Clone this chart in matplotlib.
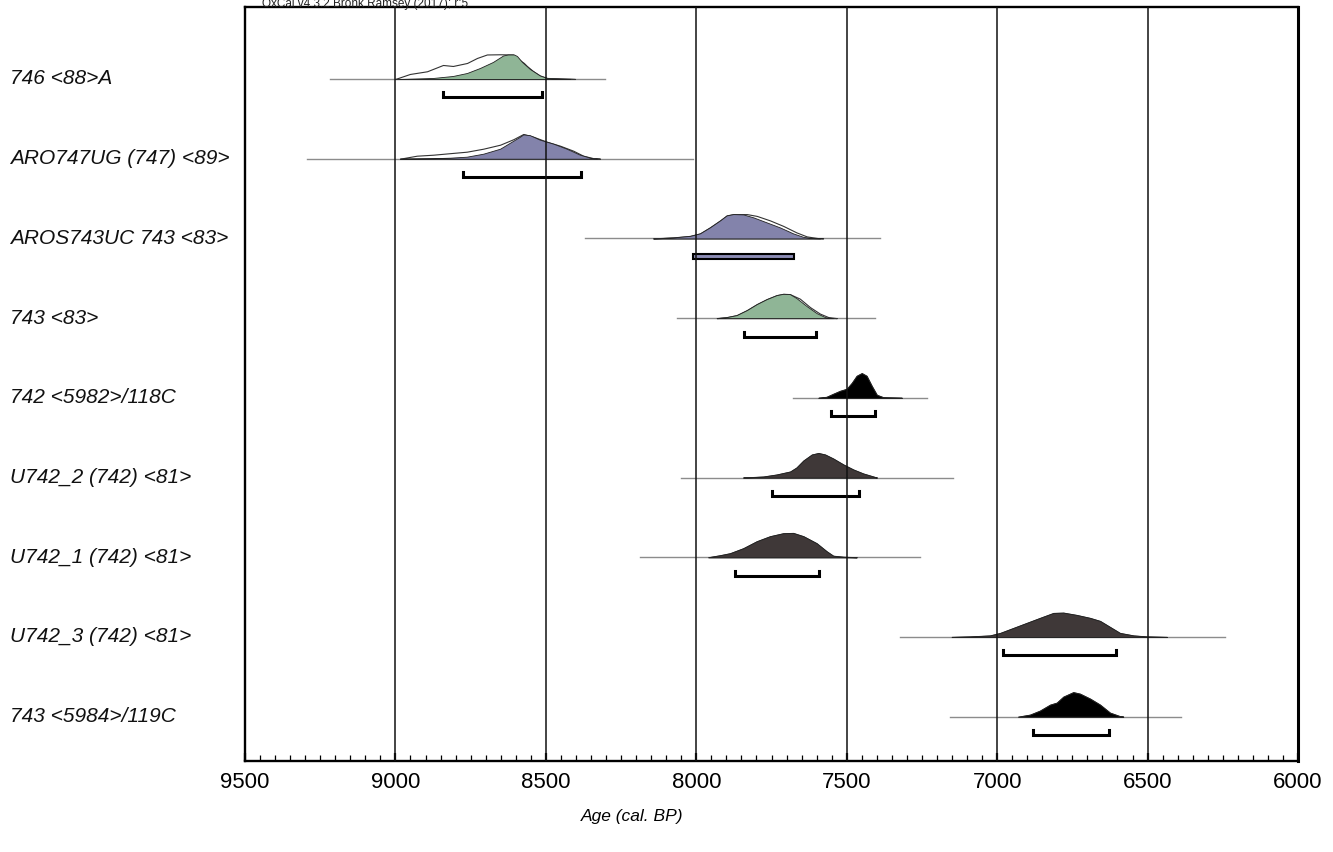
import matplotlib
matplotlib.use("Agg")
import matplotlib.pyplot as plt
from matplotlib.patches import Rectangle
from matplotlib.ticker import MultipleLocator

plt.rcParams['font.family'] = ['Liberation Sans', 'DejaVu Sans']

# ---------------- data (years cal BP, heights in relative units, peak ~24.7) -------------
labels = ["746 <88>A", "ARO747UG (747) <89>", "AROS743UC 743 <83>", "743 <83>",
          "742 <5982>/118C", "U742_2 (742) <81>", "U742_1 (742) <81>",
          "U742_3 (742) <81>", "743 <5984>/119C"]

colors = ["#8fb596", "#8383ab", "#8383ab", "#8fb596", "#000000",
          "#3f3838", "#3f3838", "#3f3838", "#000000"]

# extent of the baseline line of each row
line_from = [9218, 9294, 8370, 8065, 7680, 8052, 8187, 7323, 7157]
line_to = [8303, 8011, 7389, 7406, 7234, 7148, 7256, 6243, 6389]

# 95.4% ranges
range_from = [8842, 8776, 8010, 7841, 7552, 7747, 7871, 6979, 6882]
range_to = [8513, 8383, 7674, 7602, 7405, 7459, 7591, 6606, 6627]

# unmodelled (prior) outlines
r1_prior_x = [9001, 8952, 8895, 8842, 8809, 8762, 8729, 8696, 8652, 8609, 8592, 8573, 8563, 8543, 8520, 8496, 8420, 8403]
r1_prior_h = [0, 5, 7.7, 14, 13, 16, 21, 24.5, 24.7, 24.5, 20, 16, 13, 8, 3.5, 1, 0.3, 0]
r2_prior_x = [8985, 8929, 8874, 8819, 8763, 8708, 8652, 8608, 8575, 8542, 8497, 8453, 8409, 8376, 8342, 8320]
r2_prior_h = [0, 3, 4, 5.5, 7, 10, 14, 19.5, 24.7, 22, 17, 13, 8, 3, 0.5, 0]
r3_prior_x = [8143, 8076, 8021, 7988, 7955, 7921, 7899, 7877, 7832, 7799, 7755, 7711, 7667, 7633, 7589]
r3_prior_h = [0, 1, 2.5, 5, 11, 18, 23, 24.3, 24.3, 22.5, 18, 12.5, 6, 2, 0]
r4_prior_x = [7932, 7899, 7866, 7832, 7799, 7766, 7733, 7711, 7689, 7656, 7622, 7589, 7561, 7533]
r4_prior_h = [0, 1, 3, 8, 14, 19, 23, 24.3, 24, 19.5, 11, 4.5, 1, 0]

# modelled (posterior) distributions
r1_post_x = [8985, 8875, 8809, 8762, 8719, 8676, 8642, 8626, 8606, 8596, 8579, 8553, 8520, 8496, 8453, 8420]
r1_post_h = [0, 1, 3, 6, 11, 17, 23.5, 24.5, 24.5, 23, 17, 10, 3.5, 1, 0.3, 0]
r2_post_x = [8985, 8874, 8819, 8763, 8708, 8652, 8619, 8586, 8575, 8553, 8520, 8475, 8431, 8387, 8353, 8331]
r2_post_h = [0, 0.5, 1, 2, 5, 10, 16, 22, 24.3, 23.5, 19, 15, 10, 4, 1, 0]
r3_post_x = [8143, 8076, 8021, 7988, 7955, 7921, 7899, 7877, 7844, 7810, 7766, 7722, 7678, 7644, 7611, 7578]
r3_post_h = [0, 1, 2.5, 5, 11, 18, 23, 24.3, 24, 21, 16, 11, 5, 1.5, 0.3, 0]
r4_post_x = [7932, 7899, 7866, 7832, 7799, 7766, 7733, 7711, 7689, 7667, 7633, 7600, 7572, 7545]
r4_post_h = [0, 1, 3, 8, 14, 19, 23, 24.3, 24, 20, 12, 5, 1, 0]
r5_post_x = [7594, 7567, 7545, 7522, 7500, 7483, 7467, 7450, 7434, 7417, 7400, 7378, 7317]
r5_post_h = [0, 1, 4, 7, 9, 15, 22, 24.7, 22, 12, 3, 0.5, 0]
r6_post_x = [7844, 7777, 7733, 7688, 7667, 7644, 7616, 7594, 7572, 7545, 7511, 7478, 7445, 7406, 7400]
r6_post_h = [0, 1, 3, 6, 10, 17, 23, 24.5, 23, 19, 13, 8, 4, 0.5, 0]
r7_post_x = [7960, 7921, 7888, 7844, 7799, 7755, 7711, 7678, 7644, 7600, 7567, 7545, 7511, 7467]
r7_post_h = [0, 2, 4, 9, 16, 21, 24, 24.3, 21, 14, 6, 1.5, 0.5, 0]
r8_post_x = [7151, 7090, 7024, 6990, 6946, 6902, 6858, 6813, 6780, 6736, 6691, 6658, 6625, 6592, 6547, 6503, 6436]
r8_post_h = [0, 0.5, 1.5, 4, 9, 14, 19, 24, 24.3, 22, 19, 16, 10, 4, 1.5, 0.5, 0]
r9_post_x = [6930, 6891, 6858, 6824, 6802, 6780, 6747, 6725, 6691, 6658, 6625, 6592, 6581]
r9_post_h = [0, 2, 6, 12, 14, 20, 24.5, 23, 18, 12, 4, 0.5, 0]

priors = [(r1_prior_x, r1_prior_h), (r2_prior_x, r2_prior_h), (r3_prior_x, r3_prior_h),
          (r4_prior_x, r4_prior_h), (r5_post_x, r5_post_h), (r6_post_x, r6_post_h),
          (r7_post_x, r7_post_h), (r8_post_x, r8_post_h), (r9_post_x, r9_post_h)]
posts = [(r1_post_x, r1_post_h), (r2_post_x, r2_post_h), (r3_post_x, r3_post_h),
         (r4_post_x, r4_post_h), (r5_post_x, r5_post_h), (r6_post_x, r6_post_h),
         (r7_post_x, r7_post_h), (r8_post_x, r8_post_h), (r9_post_x, r9_post_h)]

title = "OxCal v4.3.2 Bronk Ramsey (2017); r:5"
xlabel = "Age (cal. BP)"

# ---------------- figure ----------------
W, H = 1333, 853
fig = plt.figure(figsize=(W / 100, H / 100), dpi=100)
ax = fig.add_axes([245 / W, 1 - 762 / H, 1053 / W, 754 / H])
ax.set_xlim(9500, 6000)
ax.set_ylim(-8.556, 0.903)

ROW = 79.7  # pixels per row
scale = 1.0 / ROW

for i in range(9):
    y0 = -i
    ax.plot([line_from[i], line_to[i]], [y0, y0], color="#8c8c8c", lw=1.0, zorder=2)
    px, ph = priors[i]
    ax.fill_between(px, y0, [y0 + h * scale for h in ph], facecolor="white",
                    edgecolor="#333333", lw=0.8, zorder=3)
    qx, qh = posts[i]
    ax.fill_between(qx, y0, [y0 + h * scale for h in qh], facecolor=colors[i],
                    edgecolor="#222222", lw=0.6, zorder=4)
    yb = y0 - 18.5 * scale
    if i == 2:
        ax.add_patch(Rectangle((range_to[i], yb - 2.5 * scale), range_from[i] - range_to[i],
                               5 * scale, facecolor="#8c8cb4", edgecolor="black",
                               lw=1.5, zorder=4))
    else:
        ax.plot([range_from[i], range_from[i], range_to[i], range_to[i]],
                [yb + 5 * scale, yb, yb, yb + 5 * scale], color="black", lw=2.2,
                solid_joinstyle="miter", zorder=4)
    fig.text(10 / W, 1 - (80 + i * ROW - 1) / H, labels[i], fontsize=15, style="italic",
             ha="left", va="center", color="#111111")

for g in [9000, 8500, 8000, 7500, 7000, 6500]:
    ax.axvline(g, color="#111111", lw=1.1, zorder=5)

ax.set_yticks([])
ax.xaxis.set_major_locator(MultipleLocator(500))
ax.xaxis.set_minor_locator(MultipleLocator(50))
ax.tick_params(axis="x", which="major", direction="in", length=6, width=1.6,
               labelsize=16, pad=7, top=False)
ax.tick_params(axis="x", which="minor", direction="in", length=4, width=0.9, top=False)
for s in ax.spines.values():
    s.set_linewidth(1.7)
    s.set_color("black")
ax.spines["right"].set_linewidth(2.2)

fig.text(632 / W, 1 - 817 / H, xlabel, fontsize=12.5, style="italic", ha="center", va="center")
fig.text(262 / W, 1 - 6.5 / H, title, fontsize=8.5, ha="left", va="baseline", color="#222222")

fig.savefig("out.png", dpi=100)
